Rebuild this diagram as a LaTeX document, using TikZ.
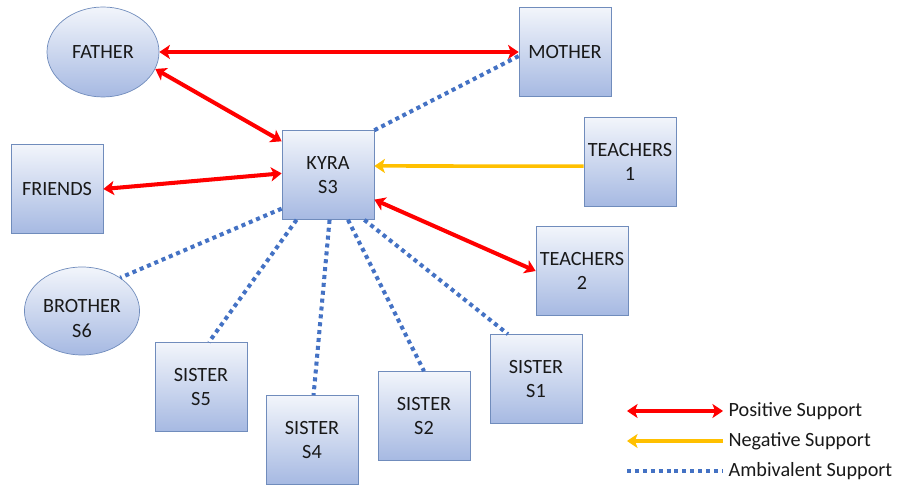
\documentclass[tikz,border=0pt]{standalone}
\usepackage{fontspec}
\setmainfont{Carlito}
\usetikzlibrary{shapes.geometric,arrows.meta}
\definecolor{boxtop}{RGB}{242,245,251}
\definecolor{boxbottom}{RGB}{166,185,226}
\definecolor{boxedge}{RGB}{112,140,188}
\definecolor{posred}{RGB}{255,0,0}
\definecolor{negyellow}{RGB}{255,192,0}
\definecolor{ambblue}{RGB}{68,114,196}
\begin{document}
\begin{tikzpicture}[>={Stealth[length=6pt,width=8pt,inset=1.5pt]},
    every node/.style={font=\fontsize{11.5}{14}\selectfont, text=black!90},
    box/.style={draw=boxedge, top color=boxtop, bottom color=boxbottom, minimum width=1.84cm, minimum height=1.78cm, align=center, inner sep=1pt},
    oval/.style={box, ellipse},
    possup/.style={posred, line width=2.3pt, <->},
    negsup/.style={negyellow, line width=2pt, ->},
    ambsup/.style={ambblue, line width=2.3pt, dash pattern=on 2.3pt off 2.2pt}]
      \useasboundingbox (0, 0) rectangle (18.06, 9.76);

      % family, friends and teachers
      \node[oval, minimum width=2.24cm, minimum height=1.8cm] (father) at (2.06, 8.72) {FATHER};
      \node[box] (mother) at (11.30, 8.72) {MOTHER};
      \node[box] (kyra) at (6.56, 6.26) {KYRA\\S3};
      \node[box] (teachers1) at (12.60, 6.52) {TEACHERS\\1};
      \node[box] (friends) at (1.14, 5.98) {FRIENDS};
      \node[box] (teachers2) at (11.64, 4.34) {TEACHERS\\2};
      \node[oval, minimum width=2.24cm, minimum height=1.76cm] (brother) at (1.64, 3.54)
        {\raisebox{-8pt}[0pt][0pt]{\begin{tabular}{@{}c@{}}BROTHER\\S6\end{tabular}}};
      \node[box] (sister5) at (4.02, 2.02) {SISTER\\S5};
      \node[box] (sister4) at (6.24, 0.96) {SISTER\\S4};
      \node[box] (sister2) at (8.48, 1.44) {SISTER\\S2};
      \node[box] (sister1) at (10.72, 2.18) {SISTER\\S1};

      \draw[possup] (father.east) -- (mother.west);
      \draw[possup] (father.-18) -- (kyra.144);
      \draw[possup] (friends.east) -- (kyra.178);
      \draw[negsup] (teachers1.185) -- (kyra.11);
      \draw[possup] (kyra.-28) -- (teachers2.west);

      \draw[ambsup] (kyra.44) -- (mother.185);
      \draw[ambsup] (kyra.216) -- (brother.41);
      \draw[ambsup] (kyra.235) -- (sister5.80);
      \draw[ambsup] (kyra.272) -- (sister4.88);
      \draw[ambsup] (kyra.-66) -- (sister2.90);
      \draw[ambsup] (kyra.-51) -- (sister1.122);

      % legend
      \node[anchor=west, inner sep=3pt] (postext) at (14.46, 1.54) {Positive Support};
      \node[anchor=west, inner sep=3pt] (negtext) at (14.46, 0.94) {Negative Support};
      \node[anchor=west, inner sep=3pt] (ambtext) at (14.46, 0.34) {Ambivalent Support};
      \coordinate (posend) at (12.54, 1.54);
      \coordinate (negend) at (12.54, 0.94);
      \coordinate (ambend) at (12.54, 0.34);
      \draw[possup] (posend) -- (postext.west);
      \draw[negsup] (negtext.west) -- (negend);
      \draw[ambsup] (ambend) -- (ambtext.west);
    \end{tikzpicture}
\end{document}
